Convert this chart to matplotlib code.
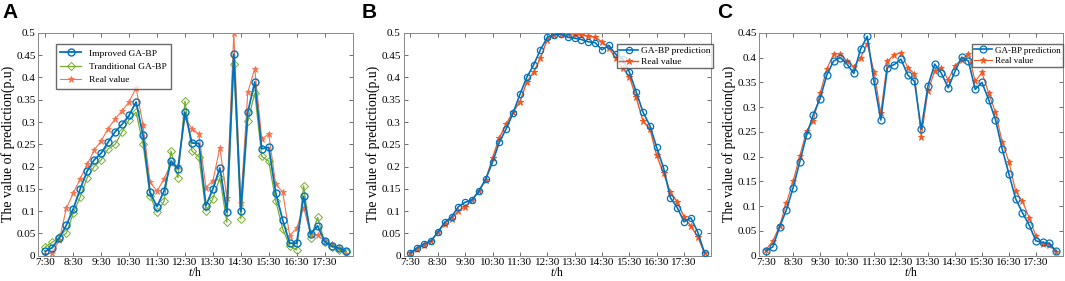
import matplotlib
matplotlib.use("Agg")
import matplotlib.pyplot as plt
import numpy as np
from matplotlib.ticker import FuncFormatter

plt.rcParams['font.family'] = 'Liberation Serif'
plt.rcParams['mathtext.fontset'] = 'custom'
plt.rcParams['mathtext.it'] = 'Liberation Serif:italic'
plt.rcParams['mathtext.rm'] = 'Liberation Serif'

time_labels = ['7:30', '8:30', '9:30', '10:30', '11:30', '12:30', '13:30',
               '14:30', '15:30', '16:30', '17:30']

# panel A
a_improved = [0.010, 0.018, 0.040, 0.068, 0.105, 0.150, 0.190, 0.215, 0.230, 0.255, 0.278,
              0.295, 0.315, 0.345, 0.270, 0.142, 0.110, 0.145, 0.212, 0.195, 0.322, 0.253,
              0.252, 0.112, 0.150, 0.197, 0.098, 0.452, 0.100, 0.322, 0.390, 0.240, 0.243,
              0.141, 0.080, 0.028, 0.028, 0.133, 0.049, 0.067, 0.032, 0.022, 0.017, 0.011]
a_traditional = [0.020, 0.030, 0.042, 0.050, 0.095, 0.132, 0.175, 0.200, 0.215, 0.240, 0.250,
                 0.278, 0.305, 0.322, 0.250, 0.135, 0.097, 0.122, 0.235, 0.175, 0.347, 0.235,
                 0.222, 0.100, 0.128, 0.175, 0.075, 0.430, 0.083, 0.302, 0.365, 0.223, 0.212,
                 0.123, 0.060, 0.022, 0.013, 0.157, 0.040, 0.086, 0.030, 0.020, 0.013, 0.008]
a_real = [0.003, 0.006, 0.035, 0.106, 0.140, 0.173, 0.205, 0.237, 0.258, 0.285, 0.307,
          0.325, 0.345, 0.377, 0.293, 0.165, 0.145, 0.172, 0.207, 0.202, 0.310, 0.285,
          0.273, 0.153, 0.168, 0.242, 0.130, 0.500, 0.118, 0.367, 0.420, 0.262, 0.273,
          0.160, 0.143, 0.045, 0.062, 0.108, 0.048, 0.046, 0.033, 0.026, 0.017, 0.004]

# panel B
b_pred = [0.006, 0.018, 0.027, 0.033, 0.053, 0.075, 0.087, 0.110, 0.120, 0.125, 0.145,
          0.172, 0.210, 0.255, 0.285, 0.320, 0.362, 0.400, 0.428, 0.462, 0.490, 0.496,
          0.498, 0.490, 0.488, 0.485, 0.480, 0.478, 0.462, 0.472, 0.452, 0.442, 0.412,
          0.368, 0.322, 0.292, 0.243, 0.197, 0.130, 0.108, 0.076, 0.085, 0.053, 0.006]
b_real = [0.005, 0.015, 0.025, 0.033, 0.053, 0.072, 0.083, 0.100, 0.110, 0.125, 0.145,
          0.170, 0.220, 0.265, 0.295, 0.323, 0.345, 0.390, 0.412, 0.443, 0.485, 0.495,
          0.497, 0.498, 0.497, 0.495, 0.492, 0.490, 0.480, 0.467, 0.443, 0.422, 0.402,
          0.355, 0.302, 0.285, 0.225, 0.185, 0.143, 0.121, 0.087, 0.066, 0.043, 0.005]

# panel C
c_pred = [0.010, 0.018, 0.058, 0.092, 0.137, 0.190, 0.243, 0.285, 0.317, 0.365, 0.393,
          0.400, 0.387, 0.368, 0.417, 0.443, 0.352, 0.274, 0.380, 0.386, 0.397, 0.365,
          0.352, 0.255, 0.343, 0.387, 0.368, 0.339, 0.372, 0.401, 0.393, 0.336, 0.350,
          0.315, 0.275, 0.216, 0.165, 0.115, 0.087, 0.062, 0.030, 0.027, 0.025, 0.009]
c_real = [0.012, 0.030, 0.060, 0.106, 0.150, 0.202, 0.252, 0.273, 0.328, 0.377, 0.407,
          0.408, 0.393, 0.382, 0.400, 0.428, 0.372, 0.288, 0.393, 0.406, 0.410, 0.380,
          0.367, 0.240, 0.332, 0.374, 0.380, 0.355, 0.384, 0.396, 0.408, 0.352, 0.370,
          0.328, 0.290, 0.230, 0.190, 0.130, 0.110, 0.077, 0.040, 0.023, 0.022, 0.008]

x = np.arange(1, len(a_real) + 1)

blue = '#0072BD'
green = '#77AC30'
red = '#F5561E'

fig = plt.figure(figsize=(10.65, 2.81), dpi=100)
bottom, height = 0.09, 0.793
axA = fig.add_axes([0.036, bottom, 0.295, height])
axB = fig.add_axes([0.379, bottom, 0.289, height])
axC = fig.add_axes([0.713, bottom, 0.285, height])


def style(ax, ymax):
    ax.set_xlim(0, 45)
    ax.set_ylim(0, ymax)
    ax.set_xticks(x[::4])
    ax.set_xticklabels(time_labels)
    ax.set_yticks(np.arange(0, ymax + 0.001, 0.05))
    ax.yaxis.set_major_formatter(FuncFormatter(lambda v, p: '%g' % round(v, 2)))
    ax.tick_params(direction='in', top=True, right=True, labelsize=8, length=3,
                   width=0.6, color='#555555', pad=2)
    ax.tick_params(axis='x', pad=1.5)
    for s in ax.spines.values():
        s.set_color('#888888')
        s.set_linewidth(0.7)
    ax.set_xlabel('$t$/h', fontsize=8.5, labelpad=-0.5)
    ax.set_ylabel('The value of prediction(p.u)', fontsize=10, labelpad=1)


axA.plot(x, a_improved, '-o', color=blue, lw=1.3, ms=5, mfc='none', mew=1.0,
         label='Improved GA-BP', zorder=3)
axA.plot(x, a_traditional, '-D', color=green, lw=0.9, ms=4, mfc='none', mew=0.7,
         label='Tranditional GA-BP', zorder=2)
axA.plot(x, a_real, '-*', color='#F7714A', lw=0.8, ms=4.5, mew=0.6,
         label='Real value', zorder=1)
style(axA, 0.5)
axA.legend(loc='upper left', bbox_to_anchor=(0.04, 0.97), fontsize=6.8, frameon=True,
           fancybox=False, edgecolor='#444444', handlelength=2.2, borderpad=0.5,
           labelspacing=0.5)

axB.plot(x, b_pred, '-o', color=blue, lw=1.2, ms=4.5, mfc='none', mew=0.9,
         label='GA-BP prediction', zorder=3)
axB.plot(x, b_real, '-*', color=red, lw=1.0, ms=4.5, mew=0.7, label='Real value', zorder=2)
style(axB, 0.5)
axB.legend(loc='upper right', bbox_to_anchor=(1.005, 0.95), fontsize=6.8, frameon=True,
           fancybox=False, edgecolor='#444444', handlelength=2.0, borderpad=0.25,
           labelspacing=0.25, borderaxespad=0, handletextpad=0.3)

axC.plot(x, c_pred, '-o', color=blue, lw=1.2, ms=5, mfc='none', mew=0.9,
         label='GA-BP prediction', zorder=3)
axC.plot(x, c_real, '-*', color=red, lw=0.8, ms=4.5, mew=0.6, label='Real value', zorder=2)
style(axC, 0.45)
axC.legend(loc='upper right', bbox_to_anchor=(1.0, 0.95), fontsize=6.5, frameon=True,
           fancybox=False, edgecolor='#444444', handlelength=2.0, borderpad=0.25,
           labelspacing=0.25, borderaxespad=0, handletextpad=0.3)

for lab, xp in [('A', 0.002), ('B', 0.34), ('C', 0.673)]:
    fig.text(xp, 0.99, lab, fontsize=15, fontweight='bold', family='Liberation Sans',
             va='top', ha='left')

fig.savefig('out.png', dpi=100)
